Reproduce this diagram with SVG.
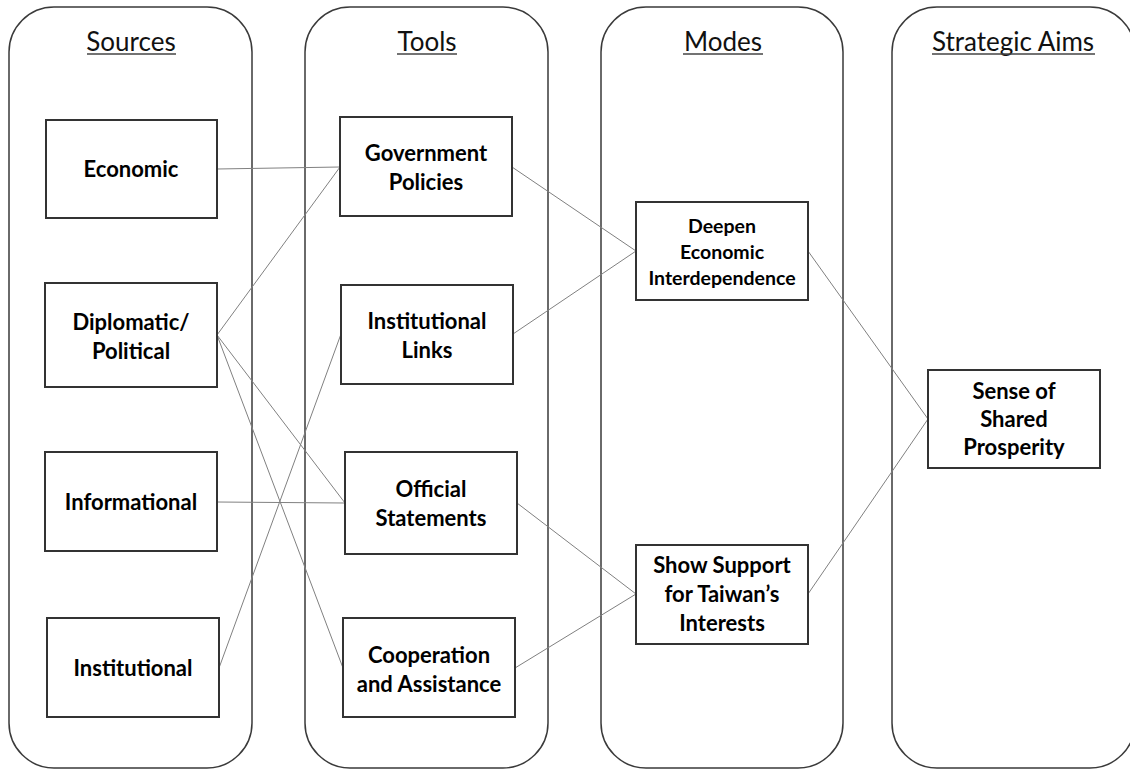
<svg xmlns="http://www.w3.org/2000/svg" width="1130" height="769" viewBox="0 0 1130 769">
<style>
.col{fill:#fff;stroke:#3a3a3a;stroke-width:1.5}
.box{fill:#fff;stroke:#333;stroke-width:2}
.hd{font-family:Lato,"Liberation Sans",sans-serif;font-size:26px;fill:#111;text-anchor:middle}
.ul{stroke:#444;stroke-width:1.6}
.t{font-family:Lato,"Liberation Sans",sans-serif;font-size:22px;font-weight:bold;fill:#000;text-anchor:middle}
.ts{font-family:Lato,"Liberation Sans",sans-serif;font-size:19.5px;font-weight:bold;fill:#000;text-anchor:middle}
.c{stroke:#808080;stroke-width:1;fill:none}
</style>
<rect width="1130" height="769" fill="#fff"/>
<g id="columns">
<rect class="col" x="9" y="7" width="243" height="761" rx="45" ry="45"/>
<rect class="col" x="305" y="7" width="243" height="761" rx="45" ry="45"/>
<rect class="col" x="601" y="7" width="242" height="761" rx="45" ry="45"/>
<rect class="col" x="892" y="7" width="243" height="761" rx="45" ry="45"/>
<text class="hd" x="131" y="51">Sources</text><line class="ul" x1="87" y1="54" x2="176" y2="54"/>
<text class="hd" x="427" y="51">Tools</text><line class="ul" x1="397" y1="54" x2="457" y2="54"/>
<text class="hd" x="723" y="51">Modes</text><line class="ul" x1="683" y1="54" x2="763" y2="54"/>
<text class="hd" x="1013" y="51">Strategic Aims</text><line class="ul" x1="932" y1="54" x2="1095" y2="54"/>
</g>
<g id="connectors">
<line class="c" x1="217" y1="169" x2="340" y2="167"/>
<line class="c" x1="217" y1="335" x2="340" y2="167"/>
<line class="c" x1="217" y1="335" x2="345" y2="503"/>
<line class="c" x1="217" y1="335" x2="343" y2="668"/>
<line class="c" x1="217" y1="502" x2="345" y2="503"/>
<line class="c" x1="219" y1="668" x2="341" y2="334"/>
<line class="c" x1="512" y1="167" x2="636" y2="251"/>
<line class="c" x1="513" y1="334" x2="636" y2="251"/>
<line class="c" x1="517" y1="503" x2="636" y2="594"/>
<line class="c" x1="515" y1="668" x2="636" y2="594"/>
<line class="c" x1="808" y1="251" x2="928" y2="419"/>
<line class="c" x1="808" y1="594" x2="928" y2="419"/>
</g>
<g id="n-economic"><rect class="box" x="46" y="120" width="171" height="98"/><text class="t" x="131" y="177">Economic</text></g>
<g id="n-diplomatic"><rect class="box" x="45" y="283" width="172" height="104"/><text class="t" x="131" y="330">Diplomatic/</text><text class="t" x="131" y="359">Political</text></g>
<g id="n-informational"><rect class="box" x="45" y="452" width="172" height="99"/><text class="t" x="131" y="510">Informational</text></g>
<g id="n-institutional"><rect class="box" x="47" y="618" width="172" height="99"/><text class="t" x="133" y="676">Institutional</text></g>
<g id="n-gov"><rect class="box" x="340" y="117" width="172" height="99"/><text class="t" x="426" y="161">Government</text><text class="t" x="426" y="190">Policies</text></g>
<g id="n-links"><rect class="box" x="341" y="285" width="172" height="99"/><text class="t" x="427" y="329">Institutional</text><text class="t" x="427" y="358">Links</text></g>
<g id="n-statements"><rect class="box" x="345" y="452" width="172" height="102"/><text class="t" x="431" y="497">Official</text><text class="t" x="431" y="526">Statements</text></g>
<g id="n-coop"><rect class="box" x="343" y="618" width="172" height="99"/><text class="t" x="429" y="663">Cooperation</text><text class="t" x="429" y="692">and Assistance</text></g>
<g id="n-deepen"><rect class="box" x="636" y="202" width="172" height="98"/><text class="ts" x="722" y="233">Deepen</text><text class="ts" x="722" y="259">Economic</text><text class="ts" x="722" y="285">Interdependence</text></g>
<g id="n-support"><rect class="box" x="636" y="545" width="172" height="99"/><text class="t" x="722" y="573">Show Support</text><text class="t" x="722" y="602">for Taiwan’s</text><text class="t" x="722" y="631">Interests</text></g>
<g id="n-shared"><rect class="box" x="928" y="370" width="172" height="98"/><text class="t" x="1014" y="399">Sense of</text><text class="t" x="1014" y="427">Shared</text><text class="t" x="1014" y="455">Prosperity</text></g>
</svg>
